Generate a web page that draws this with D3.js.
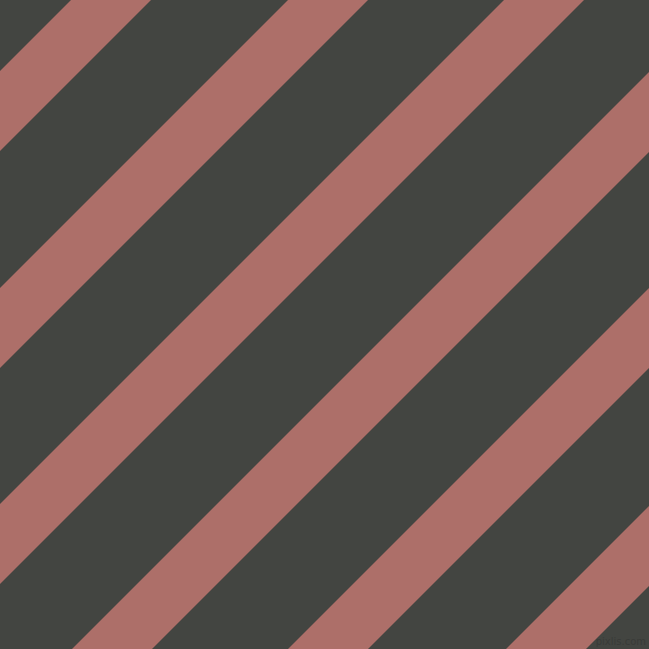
<!DOCTYPE html>
<html>
<head>
<meta charset="utf-8">
<script src="https://cdn.jsdelivr.net/npm/d3@7"></script>
<style>
  html, body { margin: 0; padding: 0; background: #434541; }
  svg { display: block; }
</style>
</head>
<body>
<svg width="649" height="649"></svg>
<script>
// diagonal intercepts (x + y) where each pink band starts / ends
const bandStart = [71, 288, 504, 721, 937, 1155];
const bandEnd   = [151, 368, 584, 801, 1017, 1235];

const svg = d3.select('svg');
const width = +svg.attr('width');
const height = +svg.attr('height');

// intercept -> distance along the 45deg direction
const diag = d3.scaleLinear()
    .domain([0, width + height])
    .range([0, (width + height) / Math.SQRT2]);

svg.append('rect')
    .attr('width', width)
    .attr('height', height)
    .attr('fill', '#434541');

const bands = bandStart.map((s, i) => ({start: s, end: bandEnd[i]}));

const g = svg.append('g').attr('transform', 'rotate(45)');

g.selectAll('rect.band')
    .data(bands)
    .enter()
    .append('rect')
    .attr('class', 'band')
    .attr('x', d => diag(d.start))
    .attr('width', d => diag(d.end) - diag(d.start))
    .attr('y', -1000)
    .attr('height', 2000)
    .attr('fill', '#ad6f69');

// watermark
svg.append('text')
    .text('pixlis.com')
    .attr('x', 646)
    .attr('y', 645)
    .attr('text-anchor', 'end')
    .attr('font-family', 'DejaVu Sans, sans-serif')
    .attr('font-size', 10)
    .attr('fill', '#393b38');
</script>
</body>
</html>
